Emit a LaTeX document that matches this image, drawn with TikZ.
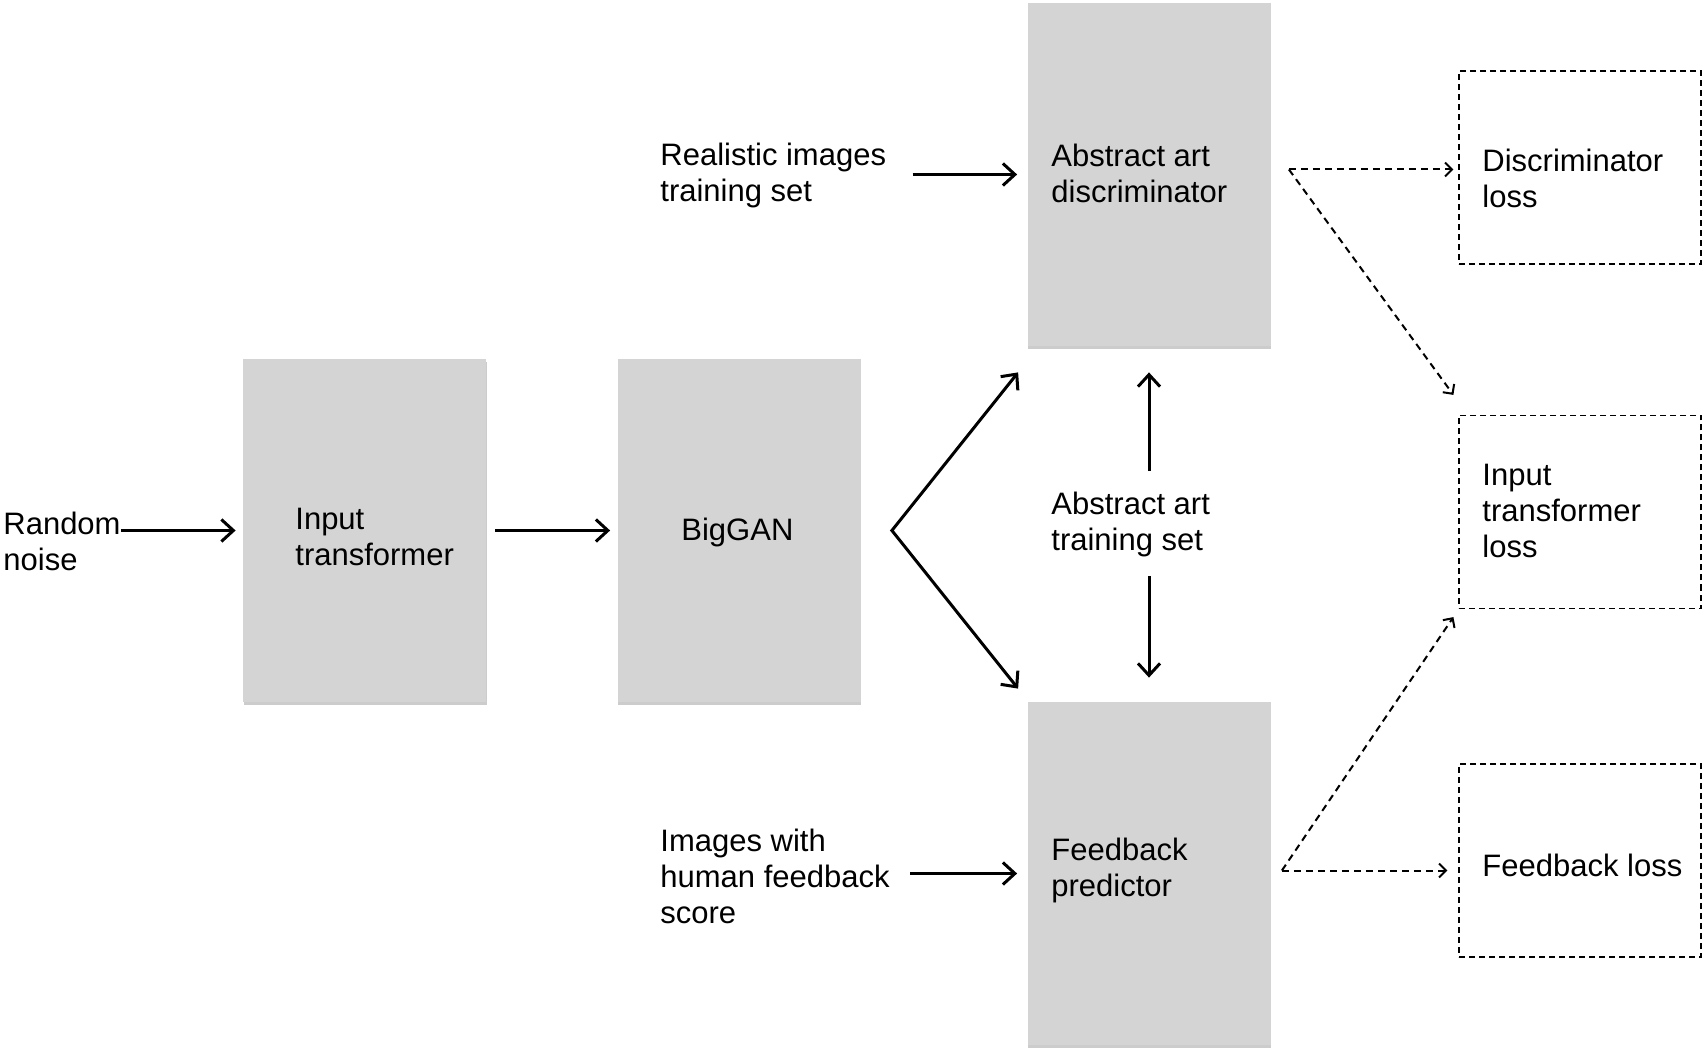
\documentclass[tikz,border=0pt]{standalone}
\usepackage{fontspec}
\setmainfont{Liberation Sans}
\usetikzlibrary{arrows.meta,calc,shadows}
\definecolor{boxgray}{RGB}{212,212,212}
\begin{document}
\begin{tikzpicture}[x=0.5pt,y=-0.5pt,
  font=\fontsize{15.5pt}{18pt}\selectfont,
  gbox/.style={fill=boxgray, minimum width=121.5pt, minimum height=171.5pt, inner sep=0pt,
    drop shadow={shadow xshift=0.3pt, shadow yshift=-1.5pt, fill=black, opacity=0.2}},
  dbox/.style={draw, line width=0.6pt, dash pattern=on 3pt off 2pt, minimum width=121pt, minimum height=96.5pt, inner sep=0pt},
  lbl/.style={inner sep=0pt, align=left, anchor=west},
  barb/.style={Straight Barb[length=6pt,width=11pt]},
  arr/.style={line width=1.5pt, -{Straight Barb[length=6pt,width=11pt]}},
  darr/.style={line width=1pt, dash pattern=on 3.5pt off 2.5pt, -{Straight Barb[length=3.5pt,width=7pt]}}
]
\useasboundingbox (0,0) rectangle (1706,1052);

% boxes
\node[gbox] (it) at (364.5,530.5) {};
\node[gbox] (big) at (739,530.5) {};
\node[gbox] (disc) at (1149,174.5) {};
\node[gbox] (fp) at (1149,873.5) {};
\node[dbox] (dl) at (1580,167.5) {};
\node[dbox] (itl) at (1580,512) {};
\node[dbox] (fl) at (1580,860.5) {};

% labels
\node[lbl] (noise) at (3,541) {Random\\noise};
\node[lbl] (itT) at (295,537) {Input\\transformer};
\node[lbl] (bigT) at (681,532) {BigGAN};
\node[lbl] (rl) at (660,175) {Realistic images\\training set};
\node[lbl] (discT) at (1051,173) {Abstract art\\discriminator};
\node[lbl] (aats) at (1051,524) {Abstract art\\training set};
\node[lbl] (hf) at (660,876) {Images with\\human feedback\\score};
\node[lbl] (fpT) at (1051,870) {Feedback\\predictor};
\node[lbl] (dlT) at (1482,178) {Discriminator\\loss};
\node[lbl] (itlT) at (1482,511) {Input\\transformer\\loss};
\node[lbl] (flT) at (1482,865) {Feedback loss};

% solid arrows
\draw[arr, shorten >=3.5pt] (noise.east |- it.west) -- (it.west);
\draw[arr, shorten <=4.5pt, shorten >=3.5pt] (it.east) -- (big.west);
\coordinate (apex) at ($(big.east)+(31,0)$);
\draw[line width=1.5pt, {Straight Barb[length=6pt,width=11pt]}-{Straight Barb[length=6pt,width=11pt]}]
  ($(disc.south west)+(-9,26)$) -- (apex) -- ($(fp.north west)+(-9,-13)$);
\draw[arr] ($(disc.south |- aats.north)+(0,-20)$) -- ($(disc.south)+(0,26)$);
\draw[arr] ($(fp.north |- aats.south)+(0,19)$) -- ($(fp.north)+(0,-24)$);
\draw[arr, shorten <=13pt, shorten >=5pt] (rl.east |- disc.west) -- (disc.west);
\draw[arr, shorten <=10pt, shorten >=5pt] (hf.east |- fp.west) -- (fp.west);

% dashed arrows
\coordinate (ds) at ($(disc.east)+(18,-5)$);
\draw[darr, shorten >=2.5pt] (ds) -- (ds -| dl.west);
\draw[darr] (ds) -- ($(itl.north west)+(-5,-20)$);
\coordinate (fs) at ($(fp.east)+(11,-3)$);
\draw[darr] (fs) -- ($(itl.south west)+(-5,8)$);
\draw[darr, shorten >=5.5pt] (fs) -- (fs -| fl.west);
\end{tikzpicture}
\end{document}
